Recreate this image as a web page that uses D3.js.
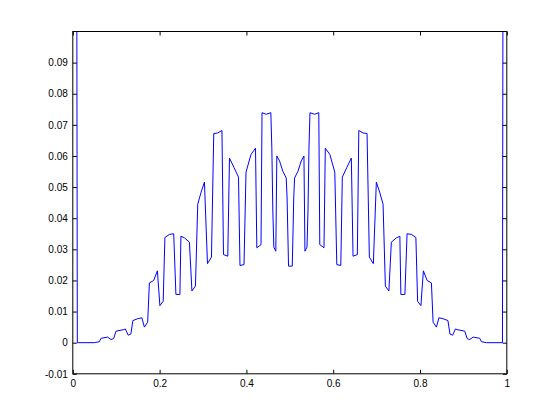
<!DOCTYPE html>
<html>
<head>
<meta charset="utf-8">
<script src="https://cdn.jsdelivr.net/npm/d3@7"></script>
<style>
  body { margin: 0; background: #fff; }
  svg text { font-family: "Liberation Sans", Arial, sans-serif; font-size: 10px; fill: #000; }
</style>
</head>
<body>
<svg id="plot"></svg>
<script>
// curve vertices
var xValues = [0, 0.0104, 0.0496, 0.0611, 0.0651, 0.0803, 0.0881, 0.0941, 0.0997,
  0.1172, 0.1211, 0.1276, 0.1338, 0.1384, 0.1495, 0.1592, 0.1649, 0.1725, 0.1765,
  0.1864, 0.1949, 0.2007, 0.2083, 0.2122, 0.2226, 0.2325, 0.2376, 0.2468, 0.2491,
  0.2572, 0.2687, 0.2745, 0.2826, 0.2879, 0.2957, 0.3033, 0.3103, 0.3195, 0.3248,
  0.3340, 0.3437, 0.3472, 0.3571, 0.3610, 0.3714, 0.3818, 0.3852, 0.3945, 0.3991,
  0.4106, 0.4210, 0.4240, 0.4337, 0.4360, 0.4457, 0.4563, 0.4586, 0.4609, 0.4632,
  0.4678, 0.4701, 0.4764, 0.4840, 0.4918, 0.4937, 0.4960, 0.4971,
  0.5057, 0.5068, 0.5091, 0.5110, 0.5188, 0.5264, 0.5326, 0.5349, 0.5396, 0.5419,
  0.5442, 0.5465, 0.5571, 0.5668, 0.5691, 0.5788, 0.5818, 0.5922, 0.6037, 0.6083,
  0.6175, 0.6210, 0.6314, 0.6418, 0.6457, 0.6556, 0.6590, 0.6687, 0.6780, 0.6833,
  0.6925, 0.6994, 0.7070, 0.7149, 0.7202, 0.7283, 0.7340, 0.7456, 0.7536, 0.7559,
  0.7652, 0.7702, 0.7802, 0.7905, 0.7945, 0.8021, 0.8078, 0.8164, 0.8263, 0.8302,
  0.8378, 0.8436, 0.8533, 0.8644, 0.8690, 0.8752, 0.8817, 0.8856, 0.9031, 0.9087,
  0.9146, 0.9225, 0.9377, 0.9416, 0.9532, 0.99, 1];

var yValues = [1, 0, 0, 0.0003, 0.0014, 0.0018, 0.0010, 0.0013, 0.0037,
  0.0042, 0.0044, 0.0024, 0.0028, 0.0071, 0.0077, 0.0080, 0.0050, 0.0066, 0.0192,
  0.0200, 0.0231, 0.0119, 0.0133, 0.0338, 0.0348, 0.0350, 0.0155, 0.0155, 0.0342,
  0.0337, 0.0323, 0.0166, 0.0182, 0.0445, 0.0484, 0.0516, 0.0254, 0.0275, 0.0672,
  0.0674, 0.0682, 0.0283, 0.0278, 0.0593, 0.0563, 0.0532, 0.0248, 0.0251, 0.0548,
  0.0605, 0.0625, 0.0305, 0.0315, 0.0739, 0.0734, 0.0739, 0.0626, 0.0423, 0.0307,
  0.0294, 0.0600, 0.0584, 0.0551, 0.0529, 0.0465, 0.0317, 0.0246,
  0.0246, 0.0317, 0.0465, 0.0529, 0.0551, 0.0584, 0.0600, 0.0294, 0.0307, 0.0423,
  0.0626, 0.0739, 0.0734, 0.0739, 0.0315, 0.0305, 0.0625, 0.0605, 0.0548, 0.0251,
  0.0248, 0.0532, 0.0563, 0.0593, 0.0278, 0.0283, 0.0682, 0.0674, 0.0672, 0.0275,
  0.0254, 0.0516, 0.0484, 0.0445, 0.0182, 0.0166, 0.0323, 0.0337, 0.0342, 0.0155,
  0.0155, 0.0350, 0.0348, 0.0338, 0.0133, 0.0119, 0.0231, 0.0200, 0.0192, 0.0066,
  0.0050, 0.0080, 0.0077, 0.0071, 0.0028, 0.0024, 0.0044, 0.0042, 0.0037, 0.0013,
  0.0010, 0.0018, 0.0014, 0.0003, 0, 0, 1];

var xTicks = [0, 0.2, 0.4, 0.6, 0.8, 1];
var xTickLabels = ['0', '0.2', '0.4', '0.6', '0.8', '1'];
var yTicks = [-0.01, 0, 0.01, 0.02, 0.03, 0.04, 0.05, 0.06, 0.07, 0.08, 0.09];
var yTickLabels = ['-0.01', '0', '0.01', '0.02', '0.03', '0.04', '0.05', '0.06', '0.07', '0.08', '0.09'];

var chart = {
  width: 560,
  height: 420,
  box: { left: 72.8, right: 506.8, top: 31.5, bottom: 373.8 },

  init: function() {
    var self = this;
    var b = self.box;

    self.svg = d3.select('#plot')
      .attr('width', self.width)
      .attr('height', self.height);

    self.x = d3.scaleLinear().domain([0, 1]).range([b.left, b.right]);
    self.y = d3.scaleLinear().domain([-0.01, 0.1]).range([b.bottom, b.top]);

    self.svg.append('clipPath').attr('id', 'clip')
      .append('rect')
      .attr('x', b.left).attr('y', b.top)
      .attr('width', b.right - b.left).attr('height', b.bottom - b.top);

    self.drawCurve();
    self.drawAxes();
  },

  drawCurve: function() {
    var self = this;
    var pts = xValues.map(function(d, i) { return [d, yValues[i]]; });

    var line = d3.line()
      .x(function(d) { return self.x(d[0]); })
      .y(function(d) { return self.y(d[1]); });

    self.svg.append('path')
      .datum(pts)
      .attr('clip-path', 'url(#clip)')
      .attr('d', line)
      .attr('fill', 'none')
      .attr('stroke', '#0000ff')
      .attr('stroke-width', 1);
  },

  drawAxes: function() {
    var self = this;
    var b = self.box;
    var tick = 4;

    function fmt(ticks, labels) {
      return function(d) { return labels[ticks.indexOf(d)]; };
    }
    function noDomain(g) { g.select('.domain').remove(); }

    self.svg.append('g')
      .attr('transform', 'translate(0,' + b.bottom + ')')
      .call(d3.axisBottom(self.x).tickValues(xTicks).tickFormat(fmt(xTicks, xTickLabels))
        .tickSize(-tick).tickPadding(6))
      .call(noDomain);

    self.svg.append('g')
      .attr('transform', 'translate(0,' + b.top + ')')
      .call(d3.axisTop(self.x).tickValues(xTicks).tickFormat('').tickSize(-tick))
      .call(noDomain);

    self.svg.append('g')
      .attr('transform', 'translate(' + b.left + ',0)')
      .call(d3.axisLeft(self.y).tickValues(yTicks).tickFormat(fmt(yTicks, yTickLabels))
        .tickSize(-tick).tickPadding(5))
      .call(noDomain);

    self.svg.append('g')
      .attr('transform', 'translate(' + b.right + ',0)')
      .call(d3.axisRight(self.y).tickValues(yTicks).tickFormat('').tickSize(-tick))
      .call(noDomain);

    self.svg.selectAll('.tick line').attr('stroke', '#000');
    self.svg.selectAll('.tick text')
      .style('font-family', '"Liberation Sans", Arial, sans-serif')
      .style('font-size', '10px');

    self.svg.append('rect')
      .attr('x', b.left).attr('y', b.top)
      .attr('width', b.right - b.left).attr('height', b.bottom - b.top)
      .attr('fill', 'none')
      .attr('stroke', '#000')
      .attr('stroke-width', 1);
  }
};

chart.init();
</script>
</body>
</html>
